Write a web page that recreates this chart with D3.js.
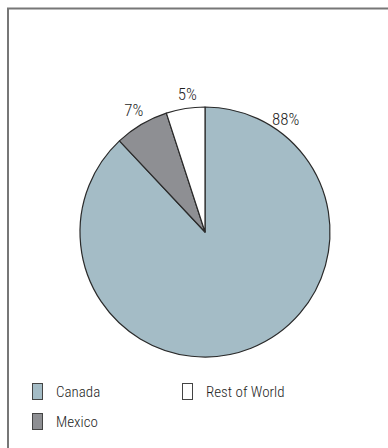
<!DOCTYPE html>
<html>
<head>
<meta charset="utf-8">
<script src="https://cdn.jsdelivr.net/npm/d3@7"></script>
<style>
  html, body { margin: 0; padding: 0; background: #fff; }
  svg { display: block; }
  text { font-family: "Liberation Sans Narrow", "Roboto Condensed", "Liberation Sans", Arial, sans-serif; font-weight: 300; fill: #1e1e1e; }
</style>
</head>
<body>
<svg id="chart" width="388" height="448"></svg>
<script>
// Share of total by destination
const categories = ["Canada", "Mexico", "Rest of World"];
const shares = [88, 7, 5];
const colors = ["#a4bcc6", "#8e8f93", "#ffffff"];

const svg = d3.select("#chart");
const W = 388, H = 448;

// open frame: top and left edges
svg.append("path")
  .attr("d", `M8,${H} V8.5 H${W}`)
  .attr("fill", "none")
  .attr("stroke", "#777")
  .attr("stroke-width", 2);

const cx = 205, cy = 232, R = 125;
const g = svg.append("g").attr("transform", `translate(${cx},${cy})`);

const pie = d3.pie().sort(null).value(d => d.v);
const arcs = pie(categories.map((c, i) => ({ c, v: shares[i], col: colors[i] })));
const arc = d3.arc().innerRadius(0).outerRadius(R);

g.selectAll("path.slice")
  .data(arcs)
  .join("path")
  .attr("class", "slice")
  .attr("d", arc)
  .attr("fill", d => d.data.col)
  .attr("stroke", "#2a2a2a")
  .attr("stroke-width", 1.2)
  .attr("stroke-linejoin", "round");

// percentage labels just outside the rim; large slices anchor near their start
const labelR = 139;
g.selectAll("text.pct")
  .data(arcs)
  .join("text")
  .attr("class", "pct")
  .each(function (d) {
    const a = Math.min((d.startAngle + d.endAngle) / 2 + 0.03, d.startAngle + 0.62);
    d3.select(this)
      .attr("x", Math.sin(a) * labelR - (d.index === 1 ? 4 : 0))
      .attr("y", -Math.cos(a) * labelR);
  })
  .attr("text-anchor", "middle")
  .attr("dominant-baseline", "central")
  .attr("font-size", 17)
  .text(d => d.data.v + "%");

// legend
const legendPos = [[32, 383], [32, 413], [182, 383]];
const lg = svg.append("g");
categories.forEach((c, i) => {
  const [x, y] = legendPos[i];
  lg.append("rect")
    .attr("x", x + 0.5).attr("y", y + 0.5)
    .attr("width", 10).attr("height", 16)
    .attr("fill", colors[i])
    .attr("stroke", "#444")
    .attr("stroke-width", 1);
  lg.append("text")
    .attr("x", x + 24).attr("y", y + 9)
    .attr("dominant-baseline", "central")
    .attr("font-size", 15)
    .text(c);
});
</script>
</body>
</html>
